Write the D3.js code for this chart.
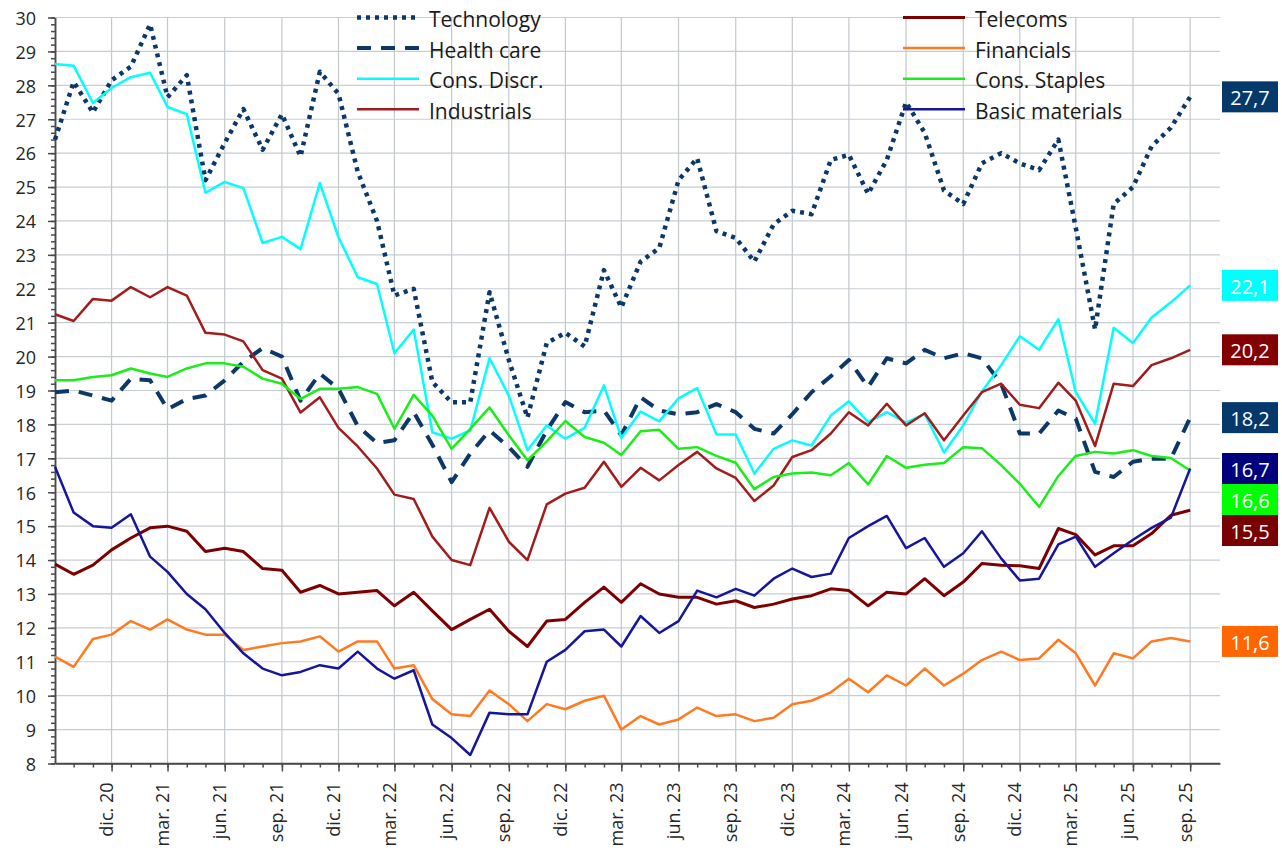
<!DOCTYPE html>
<html>
<head>
<meta charset="utf-8">
<script src="https://cdn.jsdelivr.net/npm/d3@7"></script>
<style>
  body { margin: 0; background: #fff; }
  text { font-family: 'Open Sans', sans-serif; }
</style>
</head>
<body>
<div id="chart"></div>
<script>
// Monthly series, sep. 2020 .. sep. 2025 (61 points each)
var technology = [26.4, 28.1, 27.2, 28.15, 28.55, 29.8, 27.65, 28.3, 25.2, 26.3,
  27.3, 26.1, 27.15, 25.9, 28.4, 27.75, 25.45, 24.0, 21.8, 22.0,
  19.25, 18.65, 18.65, 21.9, 19.9, 18.2, 20.4, 20.7, 20.3, 22.55,
  21.45, 22.8, 23.2, 25.2, 25.85, 23.7, 23.5, 22.8, 23.9, 24.3,
  24.2, 25.8, 25.95, 24.8, 25.8, 27.5, 26.6, 24.9, 24.5, 25.7,
  26.0, 25.7, 25.5, 26.4, 23.8, 20.8, 24.5, 25.0, 26.2, 26.75, 27.66];
var healthCare = [18.95, 19.0, 18.85, 18.7, 19.35, 19.3, 18.45, 18.75, 18.85, 19.3,
  19.85, 20.25, 20.0, 18.7, 19.5, 19.05, 17.95, 17.45, 17.53, 18.36,
  17.4, 16.3, 17.14, 17.82, 17.33, 16.75, 17.82, 18.66, 18.36, 18.41,
  17.68, 18.8, 18.41, 18.3, 18.36, 18.6, 18.36, 17.87, 17.73, 18.3,
  18.95, 19.42, 19.9, 19.1, 19.95, 19.8, 20.2, 19.95, 20.1, 19.95,
  19.2, 17.73, 17.73, 18.41, 18.17, 16.6, 16.45, 16.9, 16.99, 16.99, 18.2];
var consDiscr = [28.63, 28.58, 27.48, 27.92, 28.24, 28.37, 27.36, 27.15, 24.83, 25.15,
  24.97, 23.35, 23.53, 23.17, 25.12, 23.52, 22.34, 22.14, 20.1, 20.8,
  17.77, 17.58, 17.82, 19.95, 18.85, 17.24, 17.97, 17.58, 17.9, 19.15,
  17.6, 18.38, 18.09, 18.77, 19.07, 17.7, 17.7, 16.55, 17.28, 17.53,
  17.38, 18.26, 18.68, 18.07, 18.36, 18.05, 18.31, 17.17, 17.97, 18.97,
  19.75, 20.6, 20.2, 21.1, 18.95, 18.02, 20.85, 20.4, 21.15, 21.6, 22.1];
var industrials = [21.25, 21.05, 21.7, 21.65, 22.05, 21.75, 22.05, 21.8, 20.7, 20.65,
  20.45, 19.6, 19.35, 18.35, 18.8, 17.9, 17.35, 16.7, 15.93, 15.8,
  14.69, 14.0, 13.85, 15.54, 14.54, 14.0, 15.64, 15.96, 16.13, 16.9,
  16.16, 16.72, 16.35, 16.8, 17.19, 16.7, 16.42, 15.74, 16.2, 17.04,
  17.24, 17.73, 18.36, 17.97, 18.61, 17.97, 18.33, 17.53, 18.26, 18.95,
  19.2, 18.58, 18.48, 19.23, 18.7, 17.36, 19.2, 19.13, 19.75, 19.95, 20.2];
var telecoms = [13.88, 13.58, 13.85, 14.3, 14.65, 14.95, 15.0, 14.85, 14.25, 14.35,
  14.25, 13.75, 13.7, 13.05, 13.25, 13.0, 13.05, 13.1, 12.65, 13.05,
  12.5, 11.95, 12.25, 12.55, 11.9, 11.45, 12.2, 12.25, 12.75, 13.2,
  12.75, 13.3, 13.0, 12.9, 12.9, 12.7, 12.8, 12.6, 12.7, 12.85,
  12.95, 13.15, 13.1, 12.65, 13.05, 13.0, 13.45, 12.95, 13.35, 13.9,
  13.85, 13.83, 13.75, 14.93, 14.75, 14.15, 14.42, 14.42, 14.78, 15.32, 15.47];
var financials = [11.15, 10.85, 11.67, 11.8, 12.2, 11.95, 12.25, 11.95, 11.8, 11.8,
  11.35, 11.45, 11.55, 11.6, 11.75, 11.3, 11.6, 11.6, 10.8, 10.9,
  9.9, 9.45, 9.4, 10.15, 9.75, 9.25, 9.75, 9.6, 9.85, 10.0,
  9.0, 9.4, 9.15, 9.3, 9.65, 9.4, 9.45, 9.25, 9.35, 9.75,
  9.85, 10.1, 10.5, 10.1, 10.6, 10.3, 10.8, 10.3, 10.65, 11.05,
  11.3, 11.05, 11.1, 11.65, 11.25, 10.3, 11.25, 11.1, 11.6, 11.7, 11.6];
var consStaples = [19.3, 19.3, 19.4, 19.45, 19.65, 19.5, 19.4, 19.65, 19.8, 19.8,
  19.7, 19.35, 19.2, 18.75, 19.05, 19.05, 19.1, 18.9, 17.87, 18.87,
  18.26, 17.28, 17.87, 18.5, 17.68, 16.94, 17.5, 18.1, 17.63, 17.46,
  17.1, 17.8, 17.84, 17.28, 17.33, 17.07, 16.87, 16.09, 16.45, 16.55,
  16.58, 16.5, 16.86, 16.23, 17.07, 16.72, 16.81, 16.86, 17.33, 17.3,
  16.8, 16.25, 15.57, 16.48, 17.07, 17.19, 17.14, 17.24, 17.07, 17.01, 16.64];
var basicMaterials = [16.75, 15.4, 15.0, 14.95, 15.35, 14.1, 13.65, 13.0, 12.55, 11.85,
  11.25, 10.8, 10.6, 10.7, 10.9, 10.8, 11.3, 10.8, 10.5, 10.75,
  9.15, 8.75, 8.25, 9.5, 9.45, 9.45, 11.0, 11.35, 11.9, 11.95,
  11.45, 12.35, 11.85, 12.2, 13.1, 12.9, 13.15, 12.95, 13.45, 13.75,
  13.5, 13.6, 14.65, 15.0, 15.3, 14.35, 14.65, 13.8, 14.2, 14.85,
  14.05, 13.4, 13.45, 14.46, 14.69, 13.8, 14.2, 14.6, 14.95, 15.25, 16.7];

var seriesNames = ["Technology", "Health care", "Cons. Discr.", "Industrials",
  "Telecoms", "Financials", "Cons. Staples", "Basic materials"];
var seriesValues = [technology, healthCare, consDiscr, industrials,
  telecoms, financials, consStaples, basicMaterials];

// tick labels (Spanish month abbreviations)
var monthNames = ["ene.", "feb.", "mar.", "abr.", "may.", "jun.",
  "jul.", "ago.", "sep.", "oct.", "nov.", "dic."];
var yTicks = d3.range(8, 31);

// styles
var lineColors = ["#0b3868", "#0b3868", "#00ffff", "#a11d1d", "#7c0000", "#ff7a21", "#19ee19", "#16169a"];
var boxColors = ["#05386b", "#05386b", "#00ffff", "#830000", "#780000", "#ff6600", "#00ff00", "#00007f"];
var lineWidths = [4.5, 4, 2.5, 2.5, 3, 2.5, 2.5, 2.5];
var dashes = ["4 5", "14 10", null, null, null, null, null, null];

var months = d3.timeMonth.range(new Date(2020, 8, 1), new Date(2025, 9, 1));
var quarters = months.filter(function (d, i) { return i > 0 && d.getMonth() % 3 === 2; });

var svg = d3.select("#chart").append("svg")
  .attr("width", 1282)
  .attr("height", 853)
  .style("background", "#fff");

var plotL = 55, plotR = 1220, plotT = 17.5, plotB = 763.5;
var x = d3.scaleTime().domain([new Date(2020, 8, 1), new Date(2025, 9, 19)]).range([plotL, plotR]);
var y = d3.scaleLinear().domain([8, 30]).range([plotB, plotT]);

// gridlines
svg.append("g").selectAll("line").data(yTicks.slice(1)).enter().append("line")
  .attr("x1", plotL).attr("x2", plotR)
  .attr("y1", function (d) { return y(d); }).attr("y2", function (d) { return y(d); })
  .style("stroke", "#c8cdd2").style("stroke-width", 1.2);
svg.append("g").selectAll("line").data(quarters).enter().append("line")
  .attr("x1", function (d) { return x(d); }).attr("x2", function (d) { return x(d); })
  .attr("y1", plotT).attr("y2", plotB)
  .style("stroke", "#c3c8cd").style("stroke-width", 1.2);

// y axis, minor then major ticks
var yMinor = svg.append("g").attr("transform", "translate(" + plotL + ",0)")
  .call(d3.axisLeft(y).tickValues(d3.range(8, 30.01, 0.2)).tickSize(4).tickSizeOuter(0).tickFormat(""));
var yAxis = svg.append("g").attr("transform", "translate(" + plotL + ",0)")
  .call(d3.axisLeft(y).tickValues(yTicks).tickSize(7).tickSizeOuter(0).tickPadding(12).tickFormat(d3.format("d")));
yAxis.selectAll("text").style("font-size", "18px").style("fill", "#262626").attr("dy", "0.38em");

// x axis, monthly minor ticks and quarterly labels
var xMinor = svg.append("g").attr("transform", "translate(0," + plotB + ")")
  .call(d3.axisBottom(x).tickValues(months.slice(1)).tickSize(4).tickSizeOuter(0).tickFormat(""));
var xAxis = svg.append("g").attr("transform", "translate(0," + plotB + ")")
  .call(d3.axisBottom(x).tickValues(quarters).tickSize(8).tickSizeOuter(0)
    .tickFormat(function (d) { return monthNames[d.getMonth()] + " " + String(d.getFullYear()).slice(2); }));
xAxis.selectAll("text")
  .attr("transform", "rotate(-90)")
  .attr("x", -19).attr("y", 1).attr("dy", 0)
  .style("text-anchor", "end")
  .style("font-size", "18px").style("fill", "#262626");

[yMinor, yAxis, xMinor, xAxis].forEach(function (g) {
  g.selectAll("path,line").style("stroke", "#4a4a4a").style("stroke-width", 1.5);
});
// extend x axis line to the right edge of the plot
xAxis.select("path.domain").attr("d", "M" + plotL + ",0H" + plotR);

// series
var line = d3.line()
  .x(function (d, i) { return x(months[i]); })
  .y(function (d) { return y(d); });

seriesValues.forEach(function (vals, k) {
  svg.append("path")
    .datum(vals)
    .attr("d", line)
    .style("fill", "none")
    .style("stroke", lineColors[k])
    .style("stroke-width", lineWidths[k])
    .style("stroke-linejoin", "round")
    .style("stroke-dasharray", dashes[k]);
});

// legend, two columns of four
seriesNames.forEach(function (name, k) {
  var col = Math.floor(k / 4), row = k % 4;
  var lx = col === 0 ? 357 : 903;
  var ly = 17.5 + row * 30.6;
  svg.append("line")
    .attr("x1", lx).attr("x2", lx + 62).attr("y1", ly).attr("y2", ly)
    .style("stroke", lineColors[k])
    .style("stroke-width", lineWidths[k])
    .style("stroke-dasharray", dashes[k]);
  svg.append("text")
    .attr("x", lx + 72).attr("y", ly + 1.5)
    .attr("dominant-baseline", "central")
    .style("font-size", "21px").style("fill", "#1a1a1a")
    .text(name);
});

// last-value boxes on the right, stacked so they don't overlap
var fmt = function (v) { return d3.format(".1f")(v).replace(".", ","); };
var last = seriesValues.map(function (vals, k) { return { k: k, v: vals[vals.length - 1] }; })
  .sort(function (a, b) { return b.v - a.v; });
var boxH = 31, prevBottom = -Infinity;
last.forEach(function (d) {
  var t = Math.max(y(d.v) - boxH / 2, prevBottom);
  prevBottom = t + boxH;
  svg.append("rect")
    .attr("x", 1222).attr("y", t).attr("width", 56).attr("height", boxH)
    .style("fill", boxColors[d.k]);
  svg.append("text")
    .attr("x", 1250).attr("y", t + boxH / 2 + 1)
    .attr("dominant-baseline", "central")
    .style("text-anchor", "middle")
    .style("font-size", "20px").style("fill", "#fff")
    .text(fmt(d.v));
});
</script>
</body>
</html>
